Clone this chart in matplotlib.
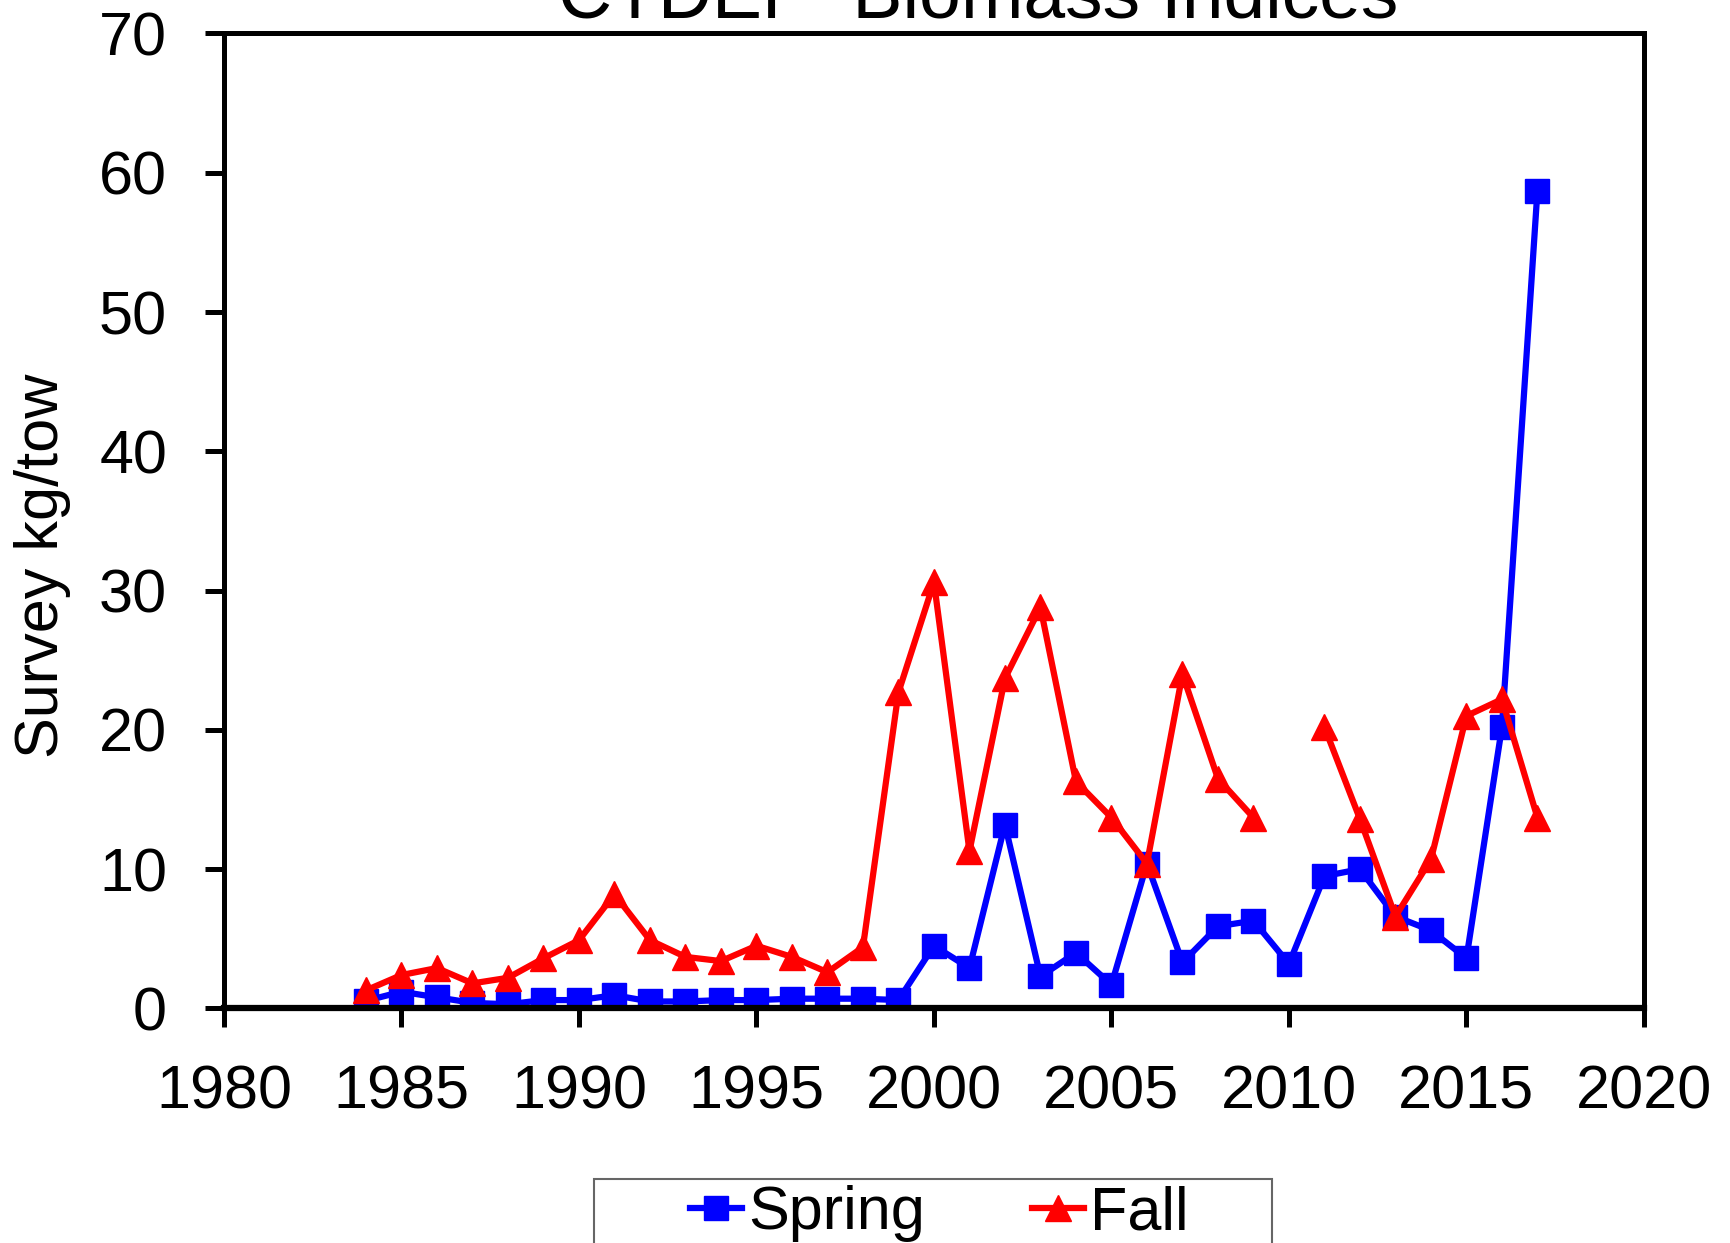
import numpy as np
import matplotlib
matplotlib.use("Agg")
import matplotlib.pyplot as plt
from matplotlib.patches import Rectangle

plt.rcParams['font.family'] = ['Liberation Sans', 'DejaVu Sans']

# survey years and biomass indices (kg/tow)
years = list(range(1984, 2018))
spring = [0.55, 1.2, 0.8, 0.4, 0.3, 0.6, 0.6, 0.95, 0.5, 0.5,
          0.6, 0.6, 0.7, 0.7, 0.7, 0.6, 4.5, 2.9, 13.2, 2.3,
          4.0, 1.7, 10.4, 3.3, 5.9, 6.3, 3.2, 9.5, 10.0, 6.6,
          5.6, 3.6, 20.2, 58.7]
fall = [1.3, 2.4, 2.9, 1.8, 2.2, 3.6, 4.9, 8.2, 4.9, 3.7,
        3.4, 4.5, 3.7, 2.6, 4.4, 22.7, 30.6, 11.3, 23.7, 28.8,
        16.3, 13.7, 10.4, 24.0, 16.5, 13.7, np.nan, 20.2, 13.6, 6.6,
        10.7, 21.0, 22.2, 13.7]

fig = plt.figure(figsize=(17.31, 12.43), dpi=100)
ax = fig.add_axes([0.1294, 0.1887, 0.8203, 0.7844])

ax.plot(years, spring, color='#0000FF', marker='s', markersize=17, lw=4.5,
        label='Spring', zorder=3)
ax.plot(years, fall, color='#FF0000', marker='^', markersize=19, lw=4.5,
        label='Fall', zorder=4)

ax.set_xlim(1980, 2020)
ax.set_ylim(0, 70)
ax.set_xticks(range(1980, 2021, 5))
ax.set_yticks(range(0, 71, 10))
ax.tick_params(axis='both', direction='out', length=14, width=3.6, labelsize=44)
ax.tick_params(axis='x', pad=26)
ax.tick_params(axis='y', pad=27)
for s in ax.spines.values():
    s.set_linewidth(3.6)
    s.set_zorder(5)
ax.spines['bottom'].set_linewidth(4.5)

fig.text(0.0245, 0.545, 'Survey kg/tow', rotation=90, fontsize=44,
         ha='center', va='center')
fig.text(0.565, 0.986, 'CTDEP  Biomass Indices', fontsize=54,
         ha='center', va='baseline')

# legend frame, cut off by the bottom edge like the original
fig.patches.append(Rectangle((594 / 1731, -0.05), (1272 - 594) / 1731,
                             (1243 - 1179) / 1243 + 0.05,
                             transform=fig.transFigure, fill=False,
                             edgecolor='#666666', lw=1.5))
fig.legend(loc='upper left', bbox_to_anchor=(690 / 1731, 1 - 1185 / 1243),
           ncol=2, frameon=False, fontsize=44, borderpad=0,
           handlelength=0.85, handletextpad=0.1, columnspacing=1.75,
           borderaxespad=0)

fig.savefig('out.png', dpi=100)
